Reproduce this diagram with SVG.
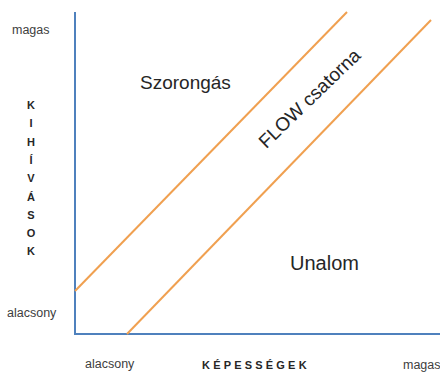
<svg xmlns="http://www.w3.org/2000/svg" width="440" height="373" viewBox="0 0 440 373">
<style>
.lbl{font-family:"Liberation Sans",Arial,sans-serif;fill:#404040}
.sm{font-size:12.5px}
.big{font-size:20px;fill:#262626}
.ax{font-size:11px;font-weight:bold;fill:#262626}
.axis{stroke:#4f81bd;stroke-width:2;fill:none}
.flow{stroke:#f0a050;stroke-width:2;fill:none}
</style>
<rect width="440" height="373" fill="#fff"/>
<g id="axes">
<path class="axis" d="M75,12 V334 H440"/>
</g>
<g id="connectors">
<line class="flow" x1="75" y1="291" x2="347" y2="12"/>
<line class="flow" x1="127" y1="334" x2="431" y2="20"/>
</g>
<g id="y-labels">
<text class="lbl sm" x="12" y="34">magas</text>
<text class="lbl sm" x="7" y="317">alacsony</text>
<text class="lbl ax" text-anchor="middle">
<tspan x="31" y="109">K</tspan><tspan x="31" y="127.3">I</tspan><tspan x="31" y="145.6">H</tspan><tspan x="31" y="163.9">Í</tspan><tspan x="31" y="182.2">V</tspan><tspan x="31" y="200.5">Á</tspan><tspan x="31" y="218.8">S</tspan><tspan x="31" y="237.1">O</tspan><tspan x="31" y="255.4">K</tspan>
</text>
</g>
<g id="x-labels">
<text class="lbl sm" x="85" y="368">alacsony</text>
<text class="lbl ax" x="202" y="369" style="letter-spacing:3.2px">KÉPESSÉGEK</text>
<text class="lbl sm" x="403" y="369">magas</text>
</g>
<g id="szorongas"><text class="lbl big" x="140" y="89" style="font-size:19px">Szorongás</text></g>
<g id="unalom"><text class="lbl big" x="290" y="270">Unalom</text></g>
<g id="flow-label"><text class="lbl big" x="0" y="0" text-anchor="middle" transform="translate(314,103) rotate(-44)" style="font-size:19px">FLOW csatorna</text></g>
</svg>
